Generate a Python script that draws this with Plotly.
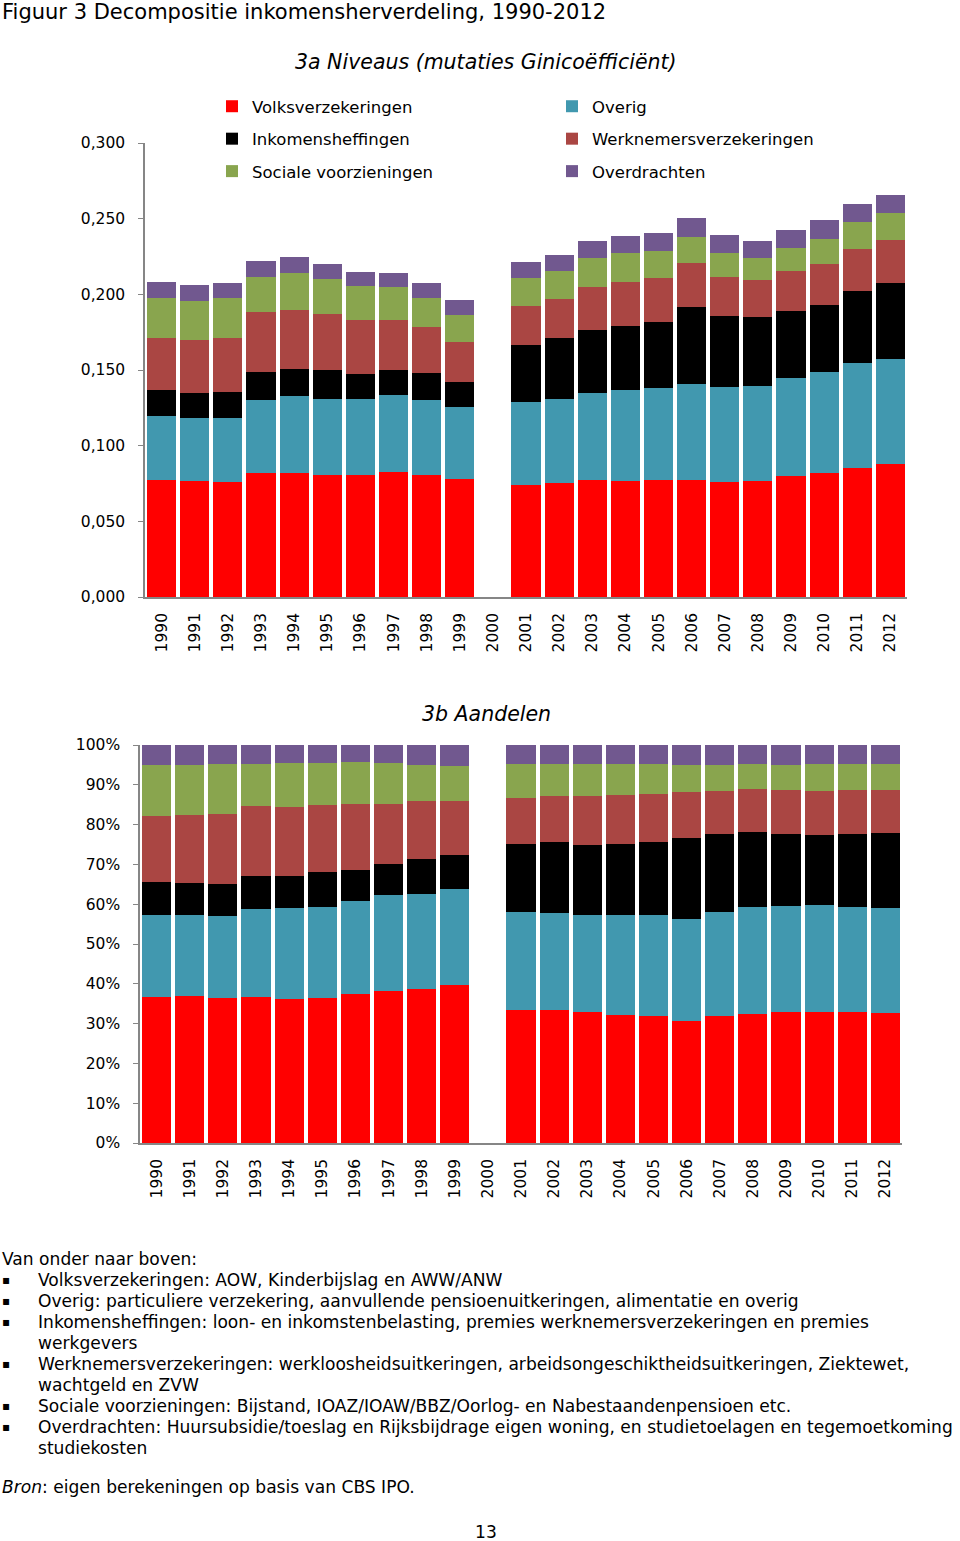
import plotly.graph_objects as go

# ---------------- data ----------------
years = [str(y) for y in range(1990, 2013)]

series_names = ["Volksverzekeringen", "Overig", "Inkomensheffingen",
                "Werknemersverzekeringen", "Sociale voorzieningen", "Overdrachten"]
series_colors = ["#FF0000", "#4198AF", "#000000", "#AA4643", "#89A54E", "#71588F"]

# 3a Niveaus (mutaties Ginicoëfficiënt)
volks_niv = [0.0773, 0.0764, 0.0760, 0.0817, 0.0819, 0.0806, 0.0808, 0.0824, 0.0804, 0.0780, None,
             0.0740, 0.0753, 0.0771, 0.0767, 0.0771, 0.0771, 0.0762, 0.0767, 0.0802, 0.0822, 0.0855, 0.0877]
overig_niv = [0.0423, 0.0419, 0.0425, 0.0487, 0.0507, 0.0502, 0.0503, 0.0511, 0.0496, 0.0476, None,
              0.0546, 0.0553, 0.0579, 0.0599, 0.0610, 0.0637, 0.0628, 0.0629, 0.0647, 0.0667, 0.0689, 0.0694]
inkomens_niv = [0.0172, 0.0163, 0.0170, 0.0183, 0.0181, 0.0194, 0.0163, 0.0165, 0.0180, 0.0165, None,
                0.0379, 0.0403, 0.0414, 0.0427, 0.0436, 0.0508, 0.0469, 0.0452, 0.0439, 0.0438, 0.0476, 0.0502]
werknemers_niv = [0.0346, 0.0350, 0.0359, 0.0394, 0.0390, 0.0370, 0.0359, 0.0328, 0.0306, 0.0266, None,
                  0.0256, 0.0262, 0.0285, 0.0291, 0.0293, 0.0291, 0.0258, 0.0247, 0.0268, 0.0276, 0.0282, 0.0288]
sociale_niv = [0.0264, 0.0262, 0.0264, 0.0231, 0.0244, 0.0232, 0.0222, 0.0221, 0.0188, 0.0174, None,
               0.0187, 0.0183, 0.0189, 0.0187, 0.0179, 0.0170, 0.0156, 0.0145, 0.0150, 0.0165, 0.0176, 0.0174]
overdracht_niv = [0.0106, 0.0102, 0.0099, 0.0106, 0.0108, 0.0099, 0.0093, 0.0094, 0.0101, 0.0102, None,
                  0.0108, 0.0104, 0.0112, 0.0115, 0.0119, 0.0125, 0.0121, 0.0112, 0.0121, 0.0121, 0.0121, 0.0124]

# 3b Aandelen
volks_aan = [0.368, 0.370, 0.365, 0.368, 0.363, 0.365, 0.375, 0.382, 0.387, 0.397, None,
             0.333, 0.333, 0.328, 0.322, 0.319, 0.307, 0.318, 0.325, 0.329, 0.329, 0.328, 0.3275]
overig_aan = [0.204, 0.204, 0.206, 0.219, 0.227, 0.228, 0.234, 0.240, 0.239, 0.242, None,
              0.248, 0.245, 0.245, 0.251, 0.255, 0.255, 0.262, 0.268, 0.266, 0.269, 0.265, 0.264]
inkomens_aan = [0.084, 0.080, 0.081, 0.084, 0.080, 0.088, 0.076, 0.078, 0.087, 0.084, None,
                0.170, 0.178, 0.176, 0.178, 0.182, 0.204, 0.196, 0.189, 0.181, 0.175, 0.183, 0.188]
werknemers_aan = [0.166, 0.170, 0.174, 0.177, 0.175, 0.169, 0.167, 0.153, 0.146, 0.137, None,
                  0.116, 0.115, 0.122, 0.123, 0.122, 0.116, 0.109, 0.107, 0.110, 0.112, 0.110, 0.108]
sociale_aan = [0.128, 0.126, 0.126, 0.105, 0.109, 0.105, 0.105, 0.101, 0.091, 0.088, None,
               0.085, 0.082, 0.082, 0.078, 0.075, 0.067, 0.064, 0.063, 0.065, 0.067, 0.067, 0.0645]
overdracht_aan = [0.050, 0.050, 0.048, 0.047, 0.046, 0.045, 0.043, 0.046, 0.050, 0.052, None,
                  0.048, 0.047, 0.047, 0.048, 0.047, 0.051, 0.051, 0.048, 0.049, 0.048, 0.047, 0.048]

y_ticks_niv = [0.0, 0.05, 0.10, 0.15, 0.20, 0.25, 0.30]
y_ticks_aan = [i / 10 for i in range(11)]

title_text = "Figuur 3 Decompositie inkomensherverdeling, 1990-2012"
sub_a = "3a Niveaus (mutaties Ginicoëfficiënt)"
sub_b = "3b Aandelen"
intro = "Van onder naar boven:"
bullet_lines = [
    ("▪", "Volksverzekeringen: AOW, Kinderbijslag en AWW/ANW"),
    ("▪", "Overig: particuliere verzekering, aanvullende pensioenuitkeringen, alimentatie en overig"),
    ("▪", "Inkomensheffingen: loon- en inkomstenbelasting, premies werknemersverzekeringen en premies"),
    ("", "werkgevers"),
    ("▪", "Werknemersverzekeringen: werkloosheidsuitkeringen, arbeidsongeschiktheidsuitkeringen, Ziektewet,"),
    ("", "wachtgeld en ZVW"),
    ("▪", "Sociale voorzieningen: Bijstand, IOAZ/IOAW/BBZ/Oorlog- en Nabestaandenpensioen etc."),
    ("▪", "Overdrachten: Huursubsidie/toeslag en Rijksbijdrage eigen woning, en studietoelagen en tegemoetkoming"),
    ("", "studiekosten"),
]
source_text = "<i>Bron</i>: eigen berekeningen op basis van CBS IPO."
page_no = "13"

# ---------------- figure ----------------
W, H = 960, 1541
FONT = "DejaVu Sans"
AXIS_GREY = "#868686"


def px(x):
    return x / W


def py(y):
    return 1 - y / H


niv = [volks_niv, overig_niv, inkomens_niv, werknemers_niv, sociale_niv, overdracht_niv]
aan = [volks_aan, overig_aan, inkomens_aan, werknemers_aan, sociale_aan, overdracht_aan]
legend_of = ["legend", "legend2", "legend", "legend2", "legend", "legend2"]

fig = go.Figure()
for i, name in enumerate(series_names):
    fig.add_trace(go.Bar(
        x=years, y=niv[i], name=name, marker=dict(color=series_colors[i], line=dict(width=0)),
        xaxis="x", yaxis="y", legend=legend_of[i], legendgroup=name, showlegend=True,
    ))
for i, name in enumerate(series_names):
    fig.add_trace(go.Bar(
        x=years, y=aan[i], name=name, marker=dict(color=series_colors[i], line=dict(width=0)),
        xaxis="x2", yaxis="y2", legendgroup=name, showlegend=False,
    ))

tickfont = dict(family=FONT, size=15.5, color="#000000")

common_x = dict(type="category", categoryorder="array", categoryarray=years,
                showline=True, linecolor=AXIS_GREY, linewidth=1.5, ticks="",
                tickangle=-90, tickfont=tickfont, showgrid=False, zeroline=False,
                ticklabelstandoff=8, automargin=False, fixedrange=True)
common_y = dict(showline=True, linecolor=AXIS_GREY, linewidth=1.5, ticks="outside",
                ticklen=5, tickcolor=AXIS_GREY, tickwidth=1.2, tickfont=tickfont,
                showgrid=False, zeroline=False, automargin=False, fixedrange=True,
                ticklabelstandoff=10)

legend_font = dict(family=FONT, size=16.5, color="#000000")
fig.update_layout(
    width=W, height=H,
    margin=dict(l=0, r=0, t=0, b=0),
    template="none",
    paper_bgcolor="white", plot_bgcolor="white",
    separators=",.",
    barmode="stack", bargap=0.12,
    font=dict(family=FONT, color="#000000"),
    xaxis=dict(common_x, domain=[px(145), px(907)], anchor="y"),
    yaxis=dict(common_y, domain=[py(597), py(143)], anchor="x", range=[0, 0.3],
               tickvals=y_ticks_niv, tickformat=".3f"),
    xaxis2=dict(common_x, domain=[px(140), px(902)], anchor="y2"),
    yaxis2=dict(common_y, domain=[py(1143), py(745)], anchor="x2", range=[0, 1],
                tickvals=y_ticks_aan, tickformat=".0%"),
    legend=dict(x=px(212), y=py(89), xanchor="left", yanchor="top", orientation="v",
                traceorder="grouped", tracegroupgap=8, bgcolor="rgba(0,0,0,0)",
                font=legend_font, itemclick=False),
    legend2=dict(x=px(552), y=py(89), xanchor="left", yanchor="top", orientation="v",
                 traceorder="grouped", tracegroupgap=8, bgcolor="rgba(0,0,0,0)",
                 font=legend_font, itemclick=False),
    showlegend=True,
)

ann = []
ann.append(dict(text=title_text, x=px(0), y=py(12), xanchor="left", yanchor="middle",
                font=dict(family=FONT, size=21)))
ann.append(dict(text=sub_a, x=px(486), y=py(62), xanchor="center", yanchor="middle",
                font=dict(family=FONT, size=20.5, style="italic")))
ann.append(dict(text=sub_b, x=px(486), y=py(714), xanchor="center", yanchor="middle",
                font=dict(family=FONT, size=20.5, style="italic")))

body_font = dict(family=FONT, size=17.1)
ann.append(dict(text=intro, x=px(0), y=py(1259), xanchor="left", yanchor="middle", font=body_font))
line_y = 1280
for bullet, txt in bullet_lines:
    if bullet:
        ann.append(dict(text=bullet, x=px(0), y=py(line_y), xanchor="left", yanchor="middle",
                        font=dict(family=FONT, size=12)))
    ann.append(dict(text=txt, x=px(36), y=py(line_y), xanchor="left", yanchor="middle", font=body_font))
    line_y += 21
ann.append(dict(text=source_text, x=px(0), y=py(1487), xanchor="left", yanchor="middle", font=body_font))
ann.append(dict(text=page_no, x=px(486), y=py(1532), xanchor="center", yanchor="middle", font=body_font))

for a in ann:
    a.update(xref="paper", yref="paper", showarrow=False, align="left")
fig.update_layout(annotations=ann)

# remove the browser's default 8px body margin so the figure sits at the page origin
fig.write_html("out.html", config={"displayModeBar": False},
               post_script="document.body.style.margin='0';")
